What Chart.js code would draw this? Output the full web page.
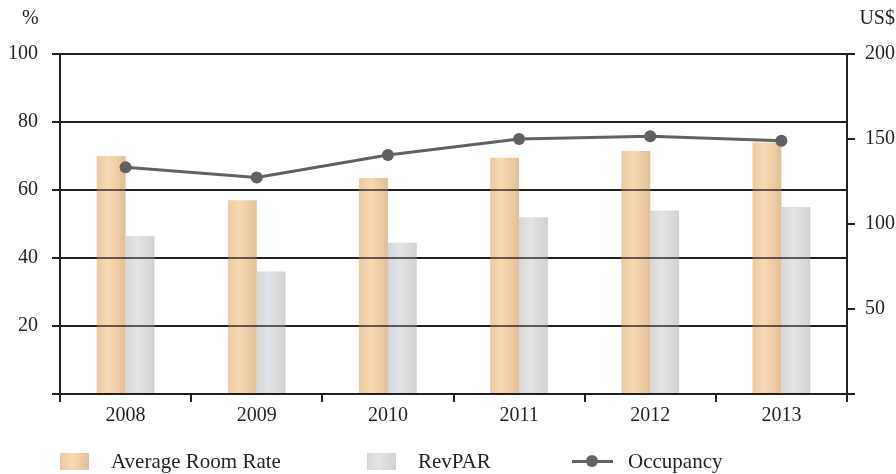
<!DOCTYPE html>
<html>
<head>
<meta charset="utf-8">
<title>Hotel performance 2008-2013</title>
<script src="https://cdn.jsdelivr.net/npm/chart.js@4.4.1/dist/chart.umd.min.js"></script>
<style>
  body { margin: 0; background: #fff; font-family: 'Liberation Serif', 'Times New Roman', serif; color: #231f20; }
  #wrap { position: relative; width: 896px; height: 474px; }
  .unit { position: absolute; top: 6px; font-size: 20px; }
  #unitLeft { left: 22px; }
  #unitRight { right: 1px; }
  #legend { position: absolute; left: 0; top: 450px; width: 896px; height: 24px; font-size: 21px; line-height: 22px; }
  .item { position: absolute; top: 0; display: flex; align-items: center; }
  .swatch { width: 29px; height: 17px; margin-right: 22px; }
  .lineKey { position: relative; width: 41px; height: 14px; margin-right: 15px; }
  .lineKey::before { content: ''; position: absolute; left: 0; right: 0; top: 6px; height: 3px; background: #606163; }
  .lineKey::after { content: ''; position: absolute; left: 14px; top: 1px; width: 12px; height: 12px; border-radius: 50%; background: #606163; }
</style>
</head>
<body>
<div id="wrap">
  <canvas id="hotelChart" width="896" height="474"></canvas>
  <div class="unit" id="unitLeft">%</div>
  <div class="unit" id="unitRight">US$</div>
  <div id="legend"></div>
</div>
<script>
const years = ['2008', '2009', '2010', '2011', '2012', '2013'];
const roomRate = [140, 114, 127, 139, 143, 148];   // US$
const revpar = [93, 72, 89, 104, 108, 110];        // US$
const occupancy = [66.7, 63.7, 70.3, 75.0, 75.8, 74.5]; // %
const pctTicks = [0, 20, 40, 60, 80, 100];
const usdTicks = [0, 50, 100, 150, 200];

const INK = '#231f20';
const FONT = { family: "'Liberation Serif', 'Times New Roman', serif", size: 20 };
const CAT_PCT = 0.44;
const LEGEND_LEFT = [60, 367, 572];

const orangeStops = [[0, '#ecc9a1'], [0.4, '#f9d9b4'], [1, '#e3bf98']];
const greyStops = [[0, '#d6d7d9'], [0.4, '#e3e4e6'], [1, '#d1d2d4']];

// horizontal shading across each bar; side -1 = left bar of the pair, +1 = right bar
function barFill(stops, side) {
  return ctx => {
    const chart = ctx.chart;
    const x = chart.scales.x;
    if (!x || ctx.type !== 'data') return stops[1][1];
    const center = x.getPixelForValue(ctx.dataIndex);
    const w = (x.width / years.length) * CAT_PCT / 2;
    if (!Number.isFinite(center) || !Number.isFinite(w) || w <= 0) return stops[1][1];
    const x0 = side < 0 ? center - w : center;
    const g = chart.ctx.createLinearGradient(x0, 0, x0 + w, 0);
    stops.forEach(s => g.addColorStop(s[0], s[1]));
    return g;
  };
}

function cssGradient(stops) {
  return 'linear-gradient(to right, ' + stops.map(s => s[1] + ' ' + (s[0] * 100) + '%').join(', ') + ')';
}

// redraw the horizontal rules over the bars so they show through
const gridOverlay = {
  id: 'gridOverlay',
  afterDatasetsDraw(chart) {
    const { ctx, chartArea, scales } = chart;
    ctx.save();
    ctx.strokeStyle = 'rgba(35,31,32,0.7)';
    ctx.lineWidth = 2;
    scales.y.ticks.forEach(t => {
      if (t.value === 0) return;
      const py = Math.round(scales.y.getPixelForValue(t.value));
      ctx.beginPath();
      ctx.moveTo(chartArea.left, py);
      ctx.lineTo(chartArea.right, py);
      ctx.stroke();
    });
    ctx.restore();
  }
};

const ctxHotel = document.getElementById('hotelChart').getContext('2d');
const chart = new Chart(ctxHotel, {
  type: 'bar',
  data: {
    labels: years,
    datasets: [
      {
        label: 'Average Room Rate',
        data: roomRate,
        yAxisID: 'y1',
        backgroundColor: barFill(orangeStops, -1),
        legendFill: cssGradient(orangeStops),
        order: 1
      },
      {
        label: 'RevPAR',
        data: revpar,
        yAxisID: 'y1',
        backgroundColor: barFill(greyStops, 1),
        legendFill: cssGradient(greyStops),
        order: 1
      },
      {
        type: 'line',
        label: 'Occupancy',
        data: occupancy,
        yAxisID: 'y',
        borderColor: '#606163',
        backgroundColor: '#606163',
        borderWidth: 3,
        pointRadius: 6,
        pointBackgroundColor: '#606163',
        pointBorderWidth: 0,
        tension: 0,
        order: 0
      }
    ]
  },
  options: {
    responsive: false,
    animation: false,
    layout: { padding: { left: 0, right: 0, top: 54, bottom: 40 } },
    datasets: { bar: { categoryPercentage: CAT_PCT, barPercentage: 1 } },
    plugins: {
      legend: { display: false },
      tooltip: { enabled: false }
    },
    scales: {
      x: {
        offset: true,
        grid: { offset: true, drawOnChartArea: false, tickLength: 8, color: INK, lineWidth: 2 },
        border: { color: INK, width: 2 },
        ticks: { color: INK, font: FONT, padding: 2 },
        afterFit: s => { s.height = 40; }
      },
      y: {
        position: 'left',
        min: 0,
        max: 100,
        afterBuildTicks: s => { s.ticks = pctTicks.map(v => ({ value: v })); },
        grid: { color: INK, lineWidth: 2, tickLength: 8 },
        border: { color: INK, width: 2 },
        ticks: { color: INK, font: FONT, padding: 14, callback: v => (v === 0 ? '' : v) },
        afterFit: s => { s.width = 60; }
      },
      y1: {
        position: 'right',
        min: 0,
        max: 200,
        afterBuildTicks: s => { s.ticks = usdTicks.map(v => ({ value: v })); },
        grid: { drawOnChartArea: false, color: INK, lineWidth: 2, tickLength: 8 },
        border: { color: INK, width: 2 },
        ticks: { color: INK, font: FONT, padding: 10, callback: v => (v === 0 ? '' : v) },
        afterFit: s => { s.width = 49; }
      }
    }
  },
  plugins: [gridOverlay]
});

// legend row under the chart
const legendEl = document.getElementById('legend');
chart.data.datasets.forEach((ds, i) => {
  const item = document.createElement('div');
  item.className = 'item';
  item.style.left = LEGEND_LEFT[i] + 'px';
  const key = document.createElement('span');
  if (ds.type === 'line') {
    key.className = 'lineKey';
  } else {
    key.className = 'swatch';
    key.style.background = ds.legendFill;
  }
  const text = document.createElement('span');
  text.textContent = ds.label;
  item.appendChild(key);
  item.appendChild(text);
  legendEl.appendChild(item);
});
</script>
</body>
</html>
